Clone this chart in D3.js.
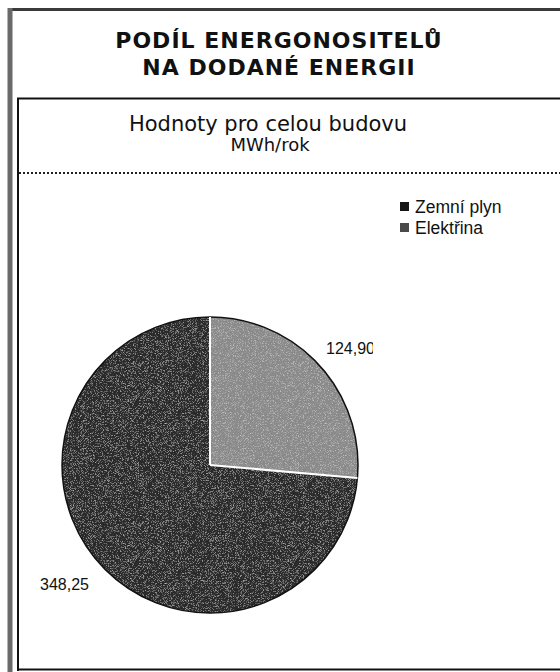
<!DOCTYPE html>
<html><head><meta charset="utf-8">
<script src="https://cdn.jsdelivr.net/npm/d3@7"></script>
<style>html,body{margin:0;padding:0;background:#fff;}svg{display:block;}</style>
</head><body>
<script>
const categories = ["Zemní plyn", "Elektřina"];
const values = [348.25, 124.90];
const colors = ["#2a2a2a", "#8a8a8a"];
const titleLines = ["PODÍL ENERGONOSITELŮ", "NA DODANÉ ENERGII"];
const subtitleLines = ["Hodnoty pro celou budovu", "MWh/rok"];

const W = 560, H = 672;
const svg = d3.select("body").append("svg").attr("width", W).attr("height", H);

// fine grain to mimic scanned texture
const defs = svg.append("defs");
const f = defs.append("filter").attr("id", "grain").attr("x", 0).attr("y", 0).attr("width", 1).attr("height", 1);
f.append("feTurbulence").attr("type", "fractalNoise").attr("baseFrequency", 1.6).attr("numOctaves", 1).attr("seed", 7).attr("result", "n");
f.append("feColorMatrix").attr("in", "n").attr("type", "matrix")
  .attr("values", "0 0 0 0 1  0 0 0 0 1  0 0 0 0 1  1.4 0 0 0 -0.72").attr("result", "w");
f.append("feComposite").attr("in", "w").attr("in2", "SourceGraphic").attr("operator", "in").attr("result", "wm");
f.append("feMerge").selectAll("feMergeNode").data(["SourceGraphic", "wm"]).join("feMergeNode").attr("in", d => d);

defs.append("clipPath").attr("id", "labclip").append("rect")
  .attr("x", 0).attr("y", 0).attr("width", 373).attr("height", H);

// Outer frame
svg.append("line").attr("x1", 8).attr("x2", W).attr("y1", 9.5).attr("y2", 9.5)
  .attr("stroke", "#3a3a3a").attr("stroke-width", 3);
svg.append("line").attr("x1", 10).attr("x2", 10).attr("y1", 8).attr("y2", H)
  .attr("stroke", "#6a6a6a").attr("stroke-width", 5);

// Title
const title = svg.append("text").attr("text-anchor", "middle")
  .attr("font-family", "DejaVu Sans").attr("font-weight", "bold").attr("font-size", 22)
  .attr("letter-spacing", 1).attr("fill", "#111");
titleLines.forEach((t, i) => title.append("tspan").attr("x", 279).attr("y", 48 + i * 27).text(t));

// Inner chart box
svg.append("line").attr("x1", 17).attr("x2", W).attr("y1", 98.5).attr("y2", 98.5).attr("stroke", "#111").attr("stroke-width", 2);
svg.append("line").attr("x1", 18).attr("x2", 18).attr("y1", 98).attr("y2", 671).attr("stroke", "#111").attr("stroke-width", 2);
svg.append("line").attr("x1", 17).attr("x2", W).attr("y1", 669.5).attr("y2", 669.5).attr("stroke", "#111").attr("stroke-width", 2);
svg.append("line").attr("x1", 19).attr("x2", W).attr("y1", 173).attr("y2", 173)
  .attr("stroke", "#222").attr("stroke-width", 2).attr("stroke-dasharray", "2,2");

// Subtitle
svg.append("text").attr("x", 268).attr("y", 131).attr("text-anchor", "middle")
  .attr("font-family", "DejaVu Sans").attr("font-size", 21).attr("fill", "#111").text(subtitleLines[0]);
svg.append("text").attr("x", 270).attr("y", 151).attr("text-anchor", "middle")
  .attr("font-family", "DejaVu Sans").attr("font-size", 18).attr("fill", "#111").text(subtitleLines[1]);

// Pie
const cx = 210, cy = 465, r = 148;
const total = d3.sum(values);
const a0 = 2 * Math.PI * values[1] / total;
const pie = d3.pie().sort(null).startAngle(a0).endAngle(a0 + 2 * Math.PI);
const arcs = pie(values);
const arc = d3.arc().innerRadius(0).outerRadius(r);
const g = svg.append("g").attr("transform", `translate(${cx},${cy})`);
g.selectAll("path.slice").data(arcs).join("path").attr("class", "slice")
  .attr("d", arc).attr("fill", (d, i) => colors[i]).attr("filter", "url(#grain)");
g.append("circle").attr("r", r).attr("fill", "none").attr("stroke", "#111").attr("stroke-width", 1.5);
// white separators
g.selectAll("line.sep").data(arcs).join("line").attr("class", "sep")
  .attr("x1", 0).attr("y1", 0)
  .attr("x2", d => r * Math.sin(d.startAngle)).attr("y2", d => -r * Math.cos(d.startAngle))
  .attr("stroke", "#fff").attr("stroke-width", 2);

// Data labels
const fmt = v => d3.format(".2f")(v).replace(".", ",");
const labelPos = [[40, 590, "start"], [326, 354, "start"]];
svg.append("g").attr("clip-path", "url(#labclip)").selectAll("text").data(values).join("text")
  .attr("x", (d, i) => labelPos[i][0]).attr("y", (d, i) => labelPos[i][1])
  .attr("text-anchor", (d, i) => labelPos[i][2])
  .attr("font-family", "Liberation Sans").attr("font-size", 16).attr("fill", "#111")
  .text(d => fmt(d));

// Legend
const lg = svg.append("g").attr("transform", "translate(400,202)");
const items = lg.selectAll("g").data(categories).join("g").attr("transform", (d, i) => `translate(0,${i * 21})`);
items.append("rect").attr("width", 9).attr("height", 9).attr("y", 0)
  .attr("fill", (d, i) => i === 0 ? "#151515" : "#4a4a4a");
items.append("text").attr("x", 15).attr("y", 10.5)
  .attr("font-family", "Liberation Sans").attr("font-size", 17.5).attr("fill", "#111").text(d => d);
</script>
</body></html>
